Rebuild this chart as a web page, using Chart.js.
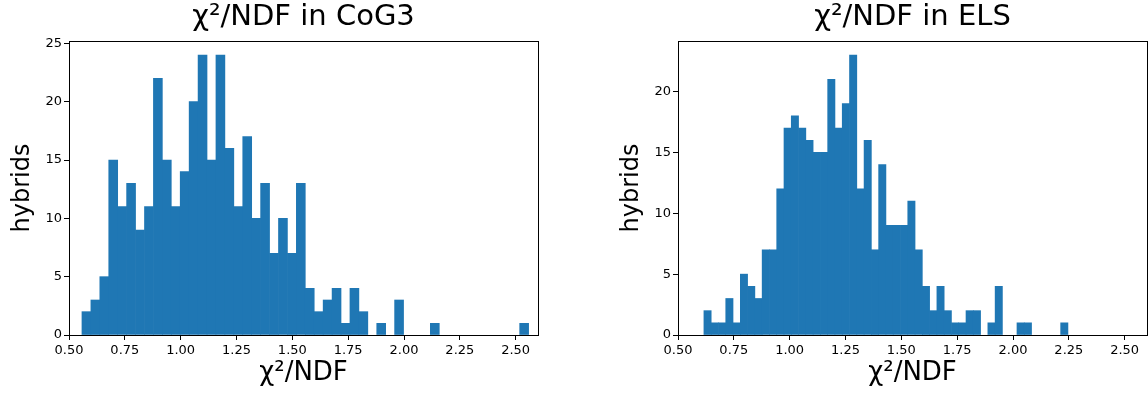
<!DOCTYPE html>
<html>
<head>
<meta charset="utf-8">
<script src="https://cdn.jsdelivr.net/npm/chart.js@4"></script>
<style>
  html, body { margin: 0; padding: 0; background: #fff; }
  .panel { position: absolute; top: 0; width: 574px; height: 399px; }
  #leftPanel { left: 0; }
  #rightPanel { left: 574px; }
</style>
</head>
<body>
<div class="panel" id="leftPanel"><canvas id="cog3Chart"></canvas></div>
<div class="panel" id="rightPanel"><canvas id="elsChart"></canvas></div>
<script>
// Histogram bins: first lower edge, bin width and counts per bin
const cog3BinStart = 0.558;
const cog3BinWidth = 0.04;
const cog3Counts = [2, 3, 5, 15, 11, 13, 9, 11, 22, 15, 11, 14, 20, 24, 15, 24, 16, 11, 17, 10,
  13, 7, 10, 7, 13, 4, 2, 3, 4, 1, 4, 2, 0, 1, 0, 3, 0, 0, 0, 1,
  0, 0, 0, 0, 0, 0, 0, 0, 0, 1];

const elsBinStart = 0.616;
const elsBinWidth = 0.0326;
const elsCounts = [2, 1, 1, 3, 1, 5, 4, 3, 7, 7, 12, 17, 18, 17, 16, 15, 15, 21, 17, 19,
  23, 12, 16, 7, 14, 9, 9, 9, 11, 7, 4, 2, 4, 2, 1, 1, 2, 2, 0, 1,
  4, 0, 0, 1, 1, 0, 0, 0, 0, 1];

const xRange = [0.5, 2.6];
const xTickStep = 0.25;
const yTickStep = 5;

const FONT = "'DejaVu Sans', sans-serif";
const BAR_COLOR = '#1f77b4';

// matplotlib-style closed frame around the plot area
const framePlugin = {
  id: 'frame',
  afterDraw(chart) {
    const { ctx, chartArea: a } = chart;
    ctx.save();
    ctx.strokeStyle = '#000';
    ctx.lineWidth = 1;
    ctx.strokeRect(Math.round(a.left) + 0.5, Math.round(a.top) + 0.5,
      Math.round(a.right - a.left), Math.round(a.bottom - a.top));
    ctx.restore();
  }
};

// bin centres; empty bins are left out so no hairline shows at zero
function toPoints(start, width, counts) {
  return counts
    .map((c, i) => ({ x: start + (i + 0.5) * width, y: c }))
    .filter(p => p.y > 0);
}

function makeHistogram(canvasId, title, start, width, counts, padLeft, padRight) {
  const ctx = document.getElementById(canvasId).getContext('2d');
  return new Chart(ctx, {
    type: 'bar',
    data: {
      datasets: [{
        data: toPoints(start, width, counts),
        backgroundColor: BAR_COLOR,
        borderWidth: 0,
        barPercentage: 1,
        categoryPercentage: 1
      }]
    },
    options: {
      responsive: true,
      maintainAspectRatio: false,
      animation: false,
      layout: { padding: { left: padLeft, right: padRight, top: 0, bottom: 0 } },
      scales: {
        x: {
          type: 'linear',
          offset: false,
          min: xRange[0],
          max: xRange[1],
          afterFit: s => { s.height = 64; },
          grid: { offset: false, drawOnChartArea: false, drawTicks: true, tickLength: 5, color: '#000' },
          border: { display: true, color: '#000' },
          ticks: {
            stepSize: xTickStep,
            includeBounds: false,
            autoSkip: false,
            maxRotation: 0,
            padding: 3,
            color: '#000',
            font: { family: FONT, size: 13 },
            callback: v => v.toFixed(2)
          },
          title: {
            display: true,
            text: 'χ²/NDF',
            color: '#000',
            font: { family: FONT, size: 26, lineHeight: 1.2 },
            padding: { top: 0, bottom: 10 }
          }
        },
        y: {
          min: 0,
          max: Math.max(...counts) * 1.05,
          afterFit: s => { s.width = 69; },
          grid: { drawOnChartArea: false, drawTicks: true, tickLength: 5, color: '#000' },
          border: { display: true, color: '#000' },
          ticks: {
            stepSize: yTickStep,
            includeBounds: false,
            padding: 2,
            color: '#000',
            font: { family: FONT, size: 13 }
          },
          title: {
            display: true,
            text: 'hybrids',
            color: '#000',
            font: { family: FONT, size: 24, lineHeight: 1.2 },
            padding: { top: 8, bottom: 0 }
          }
        }
      },
      plugins: {
        legend: { display: false },
        tooltip: { enabled: false },
        title: {
          display: true,
          text: title,
          fullSize: false,
          color: '#000',
          font: { family: FONT, size: 29, weight: 'normal', lineHeight: 1.2 },
          padding: { top: 0, bottom: 6.2 }
        }
      }
    },
    plugins: [framePlugin]
  });
}

makeHistogram('cog3Chart', 'χ²/NDF in CoG3', cog3BinStart, cog3BinWidth, cog3Counts, 0, 36);
makeHistogram('elsChart', 'χ²/NDF in ELS', elsBinStart, elsBinWidth, elsCounts, 35, 1);
</script>
</body>
</html>
